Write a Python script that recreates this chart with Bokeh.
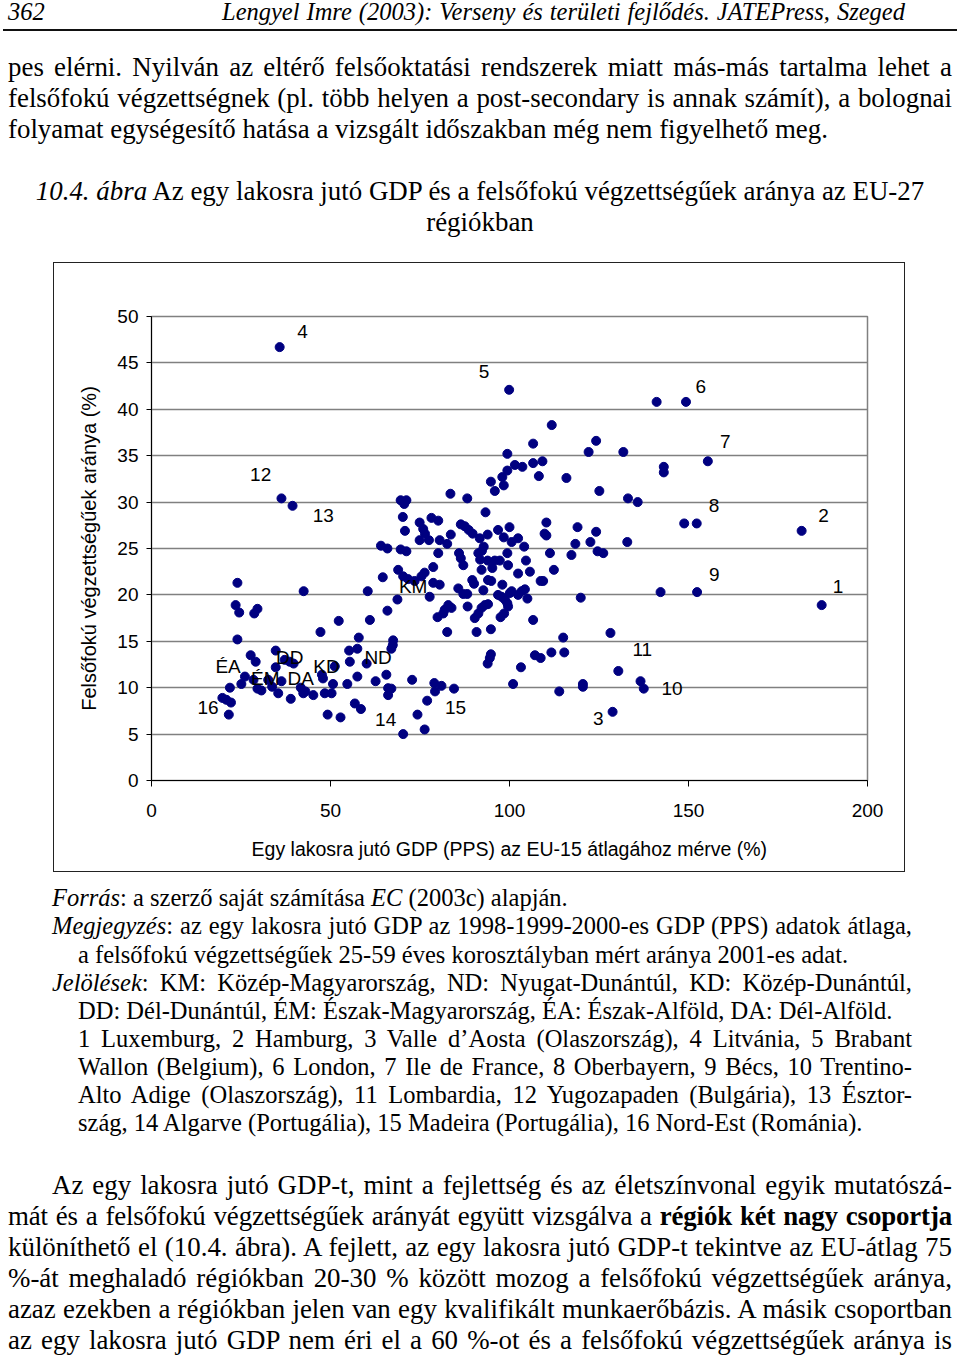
from bokeh.plotting import figure
from bokeh.models import Div, Range1d, FixedTicker, ColumnDataSource
from bokeh.layouts import column
from bokeh.embed import file_html
from bokeh.resources import INLINE
from bokeh.core.properties import value

# ---------------- data ----------------
gdp = [35.8, 36.3, 39.4, 64.1, 65.9,
       99.9, 111.8, 106.6, 124.2, 122.1, 131.8, 99.4, 109.2, 106.6, 101.5, 103.6, 99.4, 108.2, 115.9, 98.0,
       94.8, 98.4, 95.9, 125.1, 133.1, 83.5, 88.2, 69.6, 71.2, 70.6, 70.2, 70.8, 74.9, 75.9, 76.4, 78.2,
       80.1, 74.9, 77.5, 80.5, 82.6, 83.6, 86.4, 87.5, 88.6, 89.7, 91.7, 93.9, 93.3, 96.8, 100.0, 98.4,
       100.6, 102.4, 104.1, 110.3, 109.8, 110.3, 119.0, 124.2, 118.4, 122.6, 132.9, 69.6,
       71.2, 80.1, 85.9, 86.4, 91.3, 92.3, 92.8, 91.8, 99.4, 111.3, 117.3, 124.6, 126.2, 104.6, 93.9,
       95.9, 97.3,
       141.1, 149.3, 143.1, 143.1, 155.4, 135.8, 148.8, 152.3, 181.6,
       136.6, 137.5, 142.2, 152.4, 187.2,
       24.0, 23.5, 24.5, 28.7, 29.6, 24.0, 27.7, 29.1, 34.7, 34.7, 37.2, 38.6, 39.7, 26.1, 25.1, 21.9,
       28.5, 29.6, 30.7, 32.6, 33.7, 35.4, 36.3, 38.9, 41.7, 42.4, 43.0, 45.2, 42.5, 47.2, 47.6, 47.9,
       51.2, 52.3, 48.4, 50.3, 50.7, 49.2, 52.8, 54.7, 55.4, 55.2, 57.5, 57.9, 57.5, 56.8, 58.5, 60.4,
       61.0, 60.1, 62.6, 64.6, 65.9, 65.6, 66.1, 66.1, 19.8, 20.9, 22.2, 21.6,
       68.7, 68.9, 70.3, 71.7, 73.5, 75.4, 76.3, 77.7, 78.7, 78.7, 80.5, 79.9, 81.5, 81.9, 82.9, 83.8,
       82.6, 87.1, 85.7, 87.1, 88.2, 88.3, 89.6, 90.1, 90.3, 91.3, 92.2, 93.1, 94.0, 90.8, 92.2, 92.7,
       95.2, 94.0, 94.9, 98.0, 99.6, 100.1, 96.8, 97.8, 98.7, 99.4, 99.6, 97.5, 98.5, 94.8, 102.4, 100.6,
       102.4, 103.4, 104.3, 105.0, 105.7, 106.6, 108.7, 109.4, 112.4, 119.9, 115.0, 115.3, 111.7, 107.1,
       108.7, 94.8, 94.5, 93.9, 103.2, 101.0, 113.9, 120.5, 120.5, 128.2, 130.4, 128.8, 67.5, 67.4, 67.0,
       72.8, 67.0, 79.0, 81.0, 79.2, 84.5, 77.0, 74.3, 70.3, 76.3]
edu = [46.7, 30.4, 29.6, 25.3, 25.0,
       42.1, 38.3, 36.3, 36.6, 35.4, 35.4, 35.2, 34.4, 34.2, 34.0, 33.8, 33.4, 32.8, 32.6, 32.7,
       32.2, 31.8, 31.2, 31.2, 30.4, 30.9, 30.4, 30.2, 30.2, 29.8, 28.4, 26.9, 27.8, 27.1, 26.6, 28.3,
       28.0, 25.9, 25.9, 25.9, 25.5, 26.5, 27.6, 27.4, 27.0, 26.6, 26.1, 26.5, 28.9, 27.0, 27.3, 26.2,
       25.7, 26.1, 25.2, 27.8, 26.6, 26.4, 27.3, 26.8, 25.5, 25.7, 25.7, 24.9,
       24.7, 24.5, 24.5, 23.95, 24.5, 24.75, 25.2, 23.8, 24.5, 24.5, 24.3, 24.7, 24.5, 23.7, 23.7,
       23.7, 23.7,
       40.8, 40.8, 33.8, 33.2, 34.4, 30.0, 27.7, 27.7, 26.9,
       10.7, 9.9, 20.3, 20.3, 18.9,
       21.3, 18.9, 18.1, 18.0, 18.5, 15.2, 13.5, 12.8, 14.0, 12.2, 13.0, 12.8, 12.6, 11.2, 10.4, 10.0,
       10.85, 9.9, 9.7, 10.85, 10.1, 9.4, 10.7, 8.8, 10.0, 9.4, 9.6, 9.2, 20.4, 16.0, 11.4, 11.0,
       12.3, 17.2, 9.4, 9.4, 10.4, 7.1, 6.8, 10.4, 12.8, 14.0, 14.2, 15.4, 11.2, 8.3, 7.7, 20.4,
       17.3, 12.6, 10.7, 21.9, 18.3, 11.4, 9.95, 9.2, 8.9, 8.7, 8.4, 7.1,
       19.5, 22.7, 22.0, 21.7, 21.5, 22.0, 22.4, 19.8, 23.0, 21.3, 21.1, 17.6, 18.0, 18.4, 18.9, 18.6,
       16.0, 23.2, 20.7, 20.1, 20.1, 18.75, 21.6, 21.2, 17.5, 18.0, 18.6, 18.9, 19.0, 16.0, 22.7, 20.5,
       22.9, 21.6, 21.5, 21.1, 23.2, 20.2, 20.0, 19.8, 19.5, 19.1, 18.75, 17.6, 18.0, 16.3, 22.3, 20.4,
       20.0, 20.4, 20.6, 19.6, 22.5, 17.3, 21.5, 21.5, 22.7, 19.7, 15.4, 13.8, 13.8, 13.5,
       13.2, 13.6, 13.2, 12.6, 12.2, 10.4, 9.6, 10.4, 10.1, 15.9, 11.8, 7.4, 15.1, 14.6, 14.2,
       10.85, 9.9, 10.5, 10.2, 9.6, 9.9, 8.6, 7.1, 5.0, 5.5]

lab_text = ["1", "2", "3", "4", "5", "6", "7", "8", "9", "10", "11", "12", "13", "14", "15", "16",
            "KM", "ND", "KD", "DD", "ÉM", "ÉA", "DA"]
lab_x = [191.8, 187.7, 124.8, 42.2, 92.9, 153.4, 160.3, 157.1, 157.2, 145.4, 137.1, 30.5, 48.0, 65.4,
         84.9, 15.8, 73.1, 63.3, 48.9, 38.6, 31.8, 21.4, 41.7]
lab_y = [20.9, 28.6, 6.7, 48.4, 44.1, 42.5, 36.5, 29.6, 22.2, 9.9, 14.1, 33.0, 28.6, 6.6, 7.9, 7.9,
         20.9, 13.25, 12.3, 13.25, 11.0, 12.3, 11.0]

x_ticks = [0, 50, 100, 150, 200]
y_ticks = [0, 5, 10, 15, 20, 25, 30, 35, 40, 45, 50]
x_title = "Egy lakosra jutó GDP (PPS) az EU-15 átlagához mérve (%)"
y_title = "Felsőfokú végzettségűek aránya (%)"

header_page = "362"
header_title = "Lengyel Imre (2003): Verseny és területi fejlődés. JATEPress, Szeged"
top_lines = [
    "pes elérni. Nyilván az eltérő felsőoktatási rendszerek miatt más-más tartalma lehet a",
    "felsőfokú végzettségnek (pl. több helyen a post-secondary is annak számít), a bolognai",
    "folyamat egységesítő hatása a vizsgált időszakban még nem figyelhető meg.",
]
caption_lines = [
    "<i>10.4. ábra</i> Az egy lakosra jutó GDP és a felsőfokú végzettségűek aránya az EU-27",
    "régiókban",
]
note_lines = [
    "<i>Forrás</i>: a szerző saját számítása <i>EC</i> (2003c) alapján.",
    "<i>Megjegyzés</i>: az egy lakosra jutó GDP az 1998-1999-2000-es GDP (PPS) adatok átlaga,",
    "a felsőfokú végzettségűek 25-59 éves korosztályban mért aránya 2001-es adat.",
    "<i>Jelölések</i>: KM: Közép-Magyarország, ND: Nyugat-Dunántúl, KD: Közép-Dunántúl,",
    "DD: Dél-Dunántúl, ÉM: Észak-Magyarország, ÉA: Észak-Alföld, DA: Dél-Alföld.",
    "1 Luxemburg, 2 Hamburg, 3 Valle d’Aosta (Olaszország), 4 Litvánia, 5 Brabant",
    "Wallon (Belgium), 6 London, 7 Ile de France, 8 Oberbayern, 9 Bécs, 10 Trentino-",
    "Alto Adige (Olaszország), 11 Lombardia, 12 Yugozapaden (Bulgária), 13 Észtor-",
    "szág, 14 Algarve (Portugália), 15 Madeira (Portugália), 16 Nord-Est (Románia).",
]
bottom_lines = [
    "Az egy lakosra jutó GDP-t, mint a fejlettség és az életszínvonal egyik mutatószá-",
    "mát és a felsőfokú végzettségűek arányát együtt vizsgálva a <b>régiók két nagy csoportja</b>",
    "különíthető el (10.4. ábra). A fejlett, az egy lakosra jutó GDP-t tekintve az EU-átlag 75",
    "%-át meghaladó régiókban 20-30 % között mozog a felsőfokú végzettségűek aránya,",
    "azaz ezekben a régiókban jelen van egy kvalifikált munkaerőbázis. A másik csoportban",
    "az egy lakosra jutó GDP nem éri el a 60 %-ot és a felsőfokú végzettségűek aránya is",
]

SERIF = "'Liberation Serif', 'Times New Roman', serif"


def ln(html, baseline, left, width, fs, align="justify", italic=False, extra=""):
    top = baseline - 0.8375 * fs
    st = "font-style:italic;" if italic else ""
    return (f'<div style="position:absolute;top:{top:.1f}px;left:{left}px;width:{width}px;'
            f'font-size:{fs}px;line-height:{fs}px;text-align:{align};text-align-last:{align};'
            f'white-space:nowrap;{st}{extra}">{html}</div>')


FS_BODY = 26.9
FS_NOTE = 24.5
FS_HEAD = 24.5

# top block: page y 0..262
top_html = [ln(header_page, 20, 8, 100, FS_HEAD, "left", True),
            ln(header_title, 20, 222, 683, FS_HEAD, "justify", True),
            '<div style="position:absolute;top:29px;left:3px;width:954px;height:0;'
            'border-top:2px solid #111;"></div>']
for i, t in enumerate(top_lines):
    top_html.append(ln(t, 76 + 31 * i, 8, 944, FS_BODY, "justify" if i < 2 else "left"))
for i, t in enumerate(caption_lines):
    top_html.append(ln(t, 200 + 31 * i, 8, 944, FS_BODY, "center"))
top_div = Div(text=f'<div style="position:relative;width:960px;height:262px;font-family:{SERIF};color:#000;">'
              + "".join(top_html) + "</div>", width=960, height=262, margin=0,
              styles={"overflow": "visible"})

# bottom block: page y 872..1355
note_spec = [(52, 860, "left"), (52, 860, "justify"), (78, 834, "left"), (52, 860, "justify"),
             (78, 834, "left"), (78, 834, "justify"), (78, 834, "justify"), (78, 834, "justify"),
             (78, 834, "left")]
note_base = [34, 62, 91, 119, 147, 175, 203, 231, 259]
bot_html = []
for t, (lft, w, al), b in zip(note_lines, note_spec, note_base):
    bot_html.append(ln(t, b, lft, w, FS_NOTE, al))
for i, t in enumerate(bottom_lines):
    lft, w = (52, 900) if i == 0 else (8, 944)
    extra = "letter-spacing:-0.15px;" if i == 1 else ""
    bot_html.append(ln(t, 322 + 31 * i, lft, w, FS_BODY, "justify", extra=extra))
bottom_div = Div(text=f'<div style="position:relative;width:960px;height:483px;font-family:{SERIF};color:#000;">'
                 + "".join(bot_html) + "</div>", width=960, height=483, margin=0,
                 styles={"overflow": "visible"})

# ---------------- chart ----------------
p = figure(width=852, height=610, x_range=Range1d(0, 200), y_range=Range1d(0, 50),
           output_backend="svg", toolbar_location=None,
           min_border_left=97, min_border_right=39, min_border_top=53, min_border_bottom=93,
           margin=(0, 0, 0, 53))
p.styles = {"border": "1.5px solid #222", "box-sizing": "border-box"}
p.background_fill_color = "white"
p.border_fill_color = "white"
p.outline_line_color = "#808080"
p.outline_line_width = 1.5
p.xgrid.grid_line_color = None
p.ygrid.grid_line_color = "#808080"
p.ygrid.grid_line_width = 1.5

SANS = "Liberation Sans"
p.xaxis.ticker = FixedTicker(ticks=x_ticks)
p.yaxis.ticker = FixedTicker(ticks=y_ticks)
for ax in (p.xaxis[0], p.yaxis[0]):
    ax.axis_line_color = "black"
    ax.axis_line_width = 1
    ax.major_tick_line_color = "black"
    ax.major_tick_in = 0
    ax.minor_tick_line_color = None
    ax.major_label_text_font = SANS
    ax.major_label_text_font_size = "19px"
    ax.major_label_text_color = "black"
    ax.axis_label_text_font = SANS
    ax.axis_label_text_font_style = "normal"
    ax.axis_label_text_color = "black"
p.xaxis.major_tick_out = 6
p.yaxis.major_tick_out = 5
p.xaxis.major_label_standoff = 17
p.yaxis.major_label_standoff = 8
p.xaxis.axis_label = x_title
p.yaxis.axis_label = y_title
p.xaxis.axis_label_text_font_size = "19.5px"
p.yaxis.axis_label_text_font_size = "20px"
p.xaxis.axis_label_standoff = 18
p.yaxis.axis_label_standoff = 14

src = ColumnDataSource(dict(x=gdp, y=edu))
p.scatter("x", "y", source=src, size=9, marker="circle", fill_color="#000080", line_color="#000080")

lsrc = ColumnDataSource(dict(x=lab_x, y=lab_y, t=lab_text))
p.text("x", "y", text="t", source=lsrc, text_font=value(SANS), text_font_size="19px",
       text_align="center", text_baseline="middle", text_color="black")

layout = column(top_div, p, bottom_div, spacing=0)
open("out.html", "w").write(file_html(layout, INLINE))
